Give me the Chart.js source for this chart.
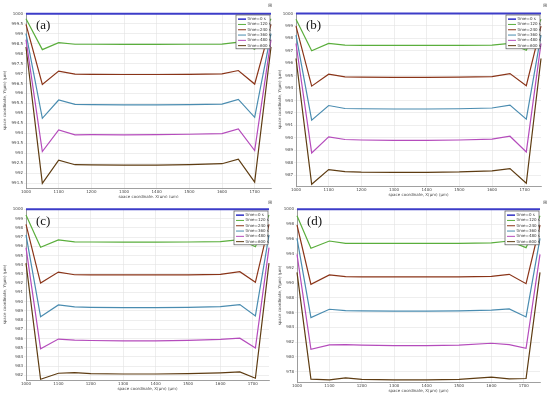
<!DOCTYPE html>
<html><head><meta charset="utf-8">
<script src="https://cdn.jsdelivr.net/npm/chart.js@4/dist/chart.umd.min.js"></script>
<style>
html,body{margin:0;padding:0;background:#fff;width:550px;height:395px;overflow:hidden}
.p{position:absolute;width:275px;height:198px}
</style></head><body>
<div class="p" style="left:0;top:0"><canvas id="ca" width="275" height="198"></canvas></div>
<div class="p" style="left:275px;top:0"><canvas id="cb" width="275" height="198"></canvas></div>
<div class="p" style="left:0;top:197px"><canvas id="cc" width="275" height="198"></canvas></div>
<div class="p" style="left:275px;top:197px"><canvas id="cd" width="275" height="198"></canvas></div>
<script>
// ---- data ----
const seriesNames = ["time=0 s","time=120 s","time=240 s","time=360 s","time=480 s","time=600 s"];
const xTicks = [1000,1100,1200,1300,1400,1500,1600,1700];
const xTitle = "space coordinate, X(μm) (μm)";
const yTitle = "space coordinate, Y(μm) (μm)";

const xA = [1000,1050,1100,1150,1200,1300,1400,1500,1600,1650,1700,1750];
const a0   = [1000,1000,1000,1000,1000,1000,1000,1000,1000,1000,1000,1000];
const a120 = [999.75,998.2,998.55,998.47,998.47,998.46,998.46,998.47,998.48,998.58,998.22,999.75];
const a240 = [999.47,996.45,997.12,996.97,996.96,996.95,996.95,996.96,996.98,997.15,996.47,999.47];
const a360 = [999.0,994.75,995.67,995.45,995.44,995.43,995.43,995.44,995.46,995.7,994.8,999.0];
const a480 = [998.7,993.08,994.17,993.92,993.93,993.92,993.93,993.95,993.98,994.22,993.13,998.7];
const a600 = [998.33,991.48,992.65,992.42,992.41,992.4,992.4,992.42,992.47,992.7,991.55,998.33];

const xB = [1000,1048,1100,1150,1200,1300,1400,1500,1600,1655,1705,1750];
const b0   = [1000,1000,1000,1000,1000,1000,1000,1000,1000,1000,1000,1000];
const b120 = [999.54,997.0,997.59,997.45,997.44,997.43,997.43,997.44,997.45,997.59,997.05,999.54];
const b240 = [998.98,994.16,995.12,994.9,994.88,994.87,994.87,994.88,994.92,995.17,994.2,998.98];
const b360 = [998.26,991.42,992.6,992.36,992.34,992.32,992.32,992.34,992.4,992.63,991.5,998.26];
const b480 = [997.59,988.79,990.08,989.87,989.83,989.8,989.8,989.83,989.9,990.13,988.87,997.59];
const b600 = [996.38,986.27,987.45,987.29,987.25,987.23,987.23,987.26,987.35,987.53,986.35,996.38];

const xC = [1000,1045,1100,1150,1200,1300,1400,1500,1600,1660,1708,1750];
const c0   = [1000,1000,1000,1000,1000,1000,1000,1000,1000,1000,1000,1000];
const c120 = [999.39,995.9,996.69,996.47,996.46,996.45,996.45,996.46,996.5,996.73,995.94,999.39];
const c240 = [998.38,992.01,993.2,992.91,992.9,992.89,992.89,992.9,992.95,993.24,992.09,998.38];
const c360 = [997.23,988.35,989.64,989.42,989.38,989.35,989.35,989.38,989.45,989.68,988.45,997.23];
const c480 = [995.86,984.89,985.94,985.83,985.78,985.74,985.74,985.8,985.9,986.04,984.96,995.86];
const c600 = [994.17,981.58,982.23,982.3,982.2,982.15,982.15,982.2,982.28,982.37,981.69,994.17];

const xD = [1000,1043,1100,1150,1200,1300,1400,1500,1600,1655,1707,1750];
const d0   = [1000,1000,1000,1000,1000,1000,1000,1000,1000,1000,1000,1000];
const d120 = [999.14,994.72,995.71,995.4,995.4,995.39,995.39,995.4,995.45,995.71,994.81,999.14];
const d240 = [997.88,989.84,991.11,990.88,990.86,990.84,990.84,990.86,990.93,991.2,989.93,997.88];
const d360 = [996.07,985.33,986.46,986.28,986.25,986.22,986.22,986.25,986.35,986.5,985.42,996.07];
const d480 = [993.9,981.04,981.63,981.67,981.6,981.52,981.52,981.6,981.85,981.67,981.17,993.9];
const d600 = [991.47,976.98,976.88,977.16,976.95,976.9,976.9,976.95,977.25,977.02,977.07,991.47];

const yTicksA = [1000,999.5,999,998.5,998,997.5,997,996.5,996,995.5,995,994.5,994,993.5,993,992.5,992,991.5];
const yTicksB = [1000,999,998,997,996,995,994,993,992,991,990,989,988,987];
const yTicksC = [1000,999,998,997,996,995,994,993,992,991,990,989,988,987,986,985,984,983,982];
const yTicksD = [1000,998,996,994,992,990,988,986,984,982,980,978];

const colors = ["#3c3cc8","#5aae3c","#8a3418","#4a8cb0","#b54cbc","#5e3c12"];
const widths = [2,1.2,1.2,1.2,1.2,1.2];

const legendPlugin = {
  id:'inLegend',
  afterDraw(chart){
    const ctx = chart.ctx, ca = chart.chartArea;
    const w = 34, rowH = 5.3, h = rowH*6+2;
    const x = ca.right - w - 1, y = ca.top + 2;
    ctx.save();
    ctx.fillStyle = '#fff'; ctx.fillRect(x,y,w,h);
    ctx.strokeStyle = '#555'; ctx.lineWidth = 0.7; ctx.strokeRect(x,y,w,h);
    ctx.font = '4px "DejaVu Sans"'; ctx.textBaseline = 'middle'; ctx.textAlign='left';
    chart.data.datasets.forEach((ds,i)=>{
      const yy = y + 1.5 + rowH*i + rowH/2;
      ctx.strokeStyle = ds.borderColor; ctx.lineWidth = i===0?1.6:1;
      ctx.beginPath(); ctx.moveTo(x+2,yy); ctx.lineTo(x+10,yy); ctx.stroke();
      ctx.fillStyle = '#333'; ctx.fillText(ds.label, x+11.5, yy);
    });
    // axis titles
    ctx.fillStyle = '#444'; ctx.font = '4px "DejaVu Sans"'; ctx.textAlign='center';
    ctx.fillText(xTitle, (ca.left+ca.right)/2, ca.bottom + 8.5);
    ctx.save();
    ctx.translate(5, (ca.top+ca.bottom)/2); ctx.rotate(-Math.PI/2);
    ctx.fillText(yTitle, 0, 0);
    ctx.restore();
    // panel label
    ctx.textAlign='left';
    ctx.fillStyle = '#111';
    ctx.font = '13px "Liberation Serif"';
    ctx.textBaseline = 'top';
    ctx.fillText(chart.options.plugins.panelTag, ca.left + 10, ca.top + 6);
    // corner icon
    ctx.fillStyle = '#666'; ctx.font = '5px "DejaVu Sans"';
    ctx.fillText('⊞', chart.width - 7, 3);
    ctx.restore();
  }
};

function makeChart(id, xs, series, yTicks, ymin, ymax, tag, pad, yW, xH){
  const datasets = series.map((vals,i)=>({
    label: seriesNames[i],
    data: xs.map((x,j)=>({x:x,y:vals[j]})),
    borderColor: colors[i], borderWidth: widths[i],
    pointRadius:0, tension:0, fill:false
  }));
  new Chart(document.getElementById(id), {
    type:'line',
    data:{datasets},
    plugins:[legendPlugin],
    options:{
      responsive:false, animation:false, clip:false,
      layout:{padding:pad},
      plugins:{legend:{display:false}, tooltip:{enabled:false}, panelTag: tag},
      scales:{
        x:{type:'linear', min:1000, max:1750,
          afterBuildTicks(s){ s.ticks = xTicks.map(v=>({value:v})); },
          afterFit(s){ s.height = xH; },
          ticks:{font:{size:4,family:'DejaVu Sans'}, color:'#444', padding:0, maxRotation:0, autoSkip:false,
            callback:v=>String(v)},
          grid:{color:'#e2e2e2', lineWidth:0.6, tickLength:1.5},
          border:{color:'#888', width:0.8}
        },
        y:{type:'linear', min:ymin, max:ymax,
          afterBuildTicks(s){ s.ticks = yTicks.map(v=>({value:v})); },
          afterFit(s){ s.width = yW; },
          ticks:{font:{size:4,family:'DejaVu Sans'}, color:'#444', padding:1, autoSkip:false,
            callback:v=>String(v)},
          grid:{color:'#e2e2e2', lineWidth:0.6, tickLength:2},
          border:{color:'#888', width:0.8}
        }
      }
    }
  });
}

makeChart('ca', xA, [a0,a120,a240,a360,a480,a600], yTicksA, 991.25, 1000.04, '(a)', {top:13,right:4,left:0,bottom:0}, 26, 10);
makeChart('cb', xB, [b0,b120,b240,b360,b480,b600], yTicksB, 986.13, 1000.04, '(b)', {top:13,right:9,left:0,bottom:0}, 21, 12);
makeChart('cc', xC, [c0,c120,c240,c360,c480,c600], yTicksC, 981.5, 1000.04, '(c)', {top:12,right:6,left:0,bottom:0}, 26, 15);
makeChart('cd', xD, [d0,d120,d240,d360,d480,d600], yTicksD, 976.6, 1000.05, '(d)', {top:12,right:10,left:0,bottom:0}, 22, 13);
</script>
</body></html>
